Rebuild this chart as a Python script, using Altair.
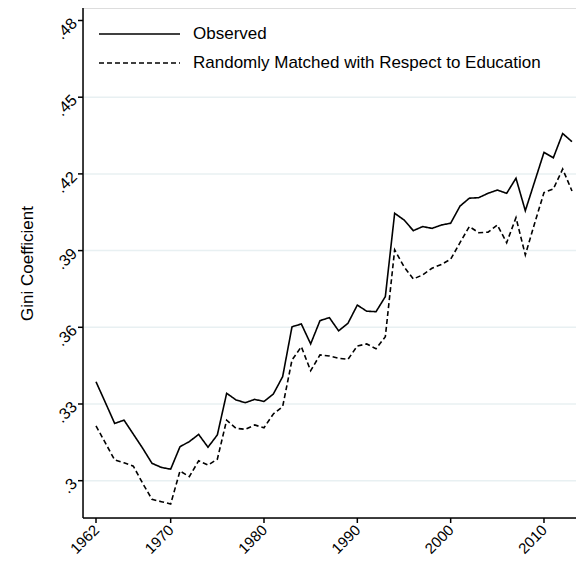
import altair as alt
import pandas as pd

years = list(range(1962, 2014))
observed = [0.3387, 0.3306, 0.3224, 0.3237, 0.3182, 0.3127, 0.3068, 0.3052, 0.3045, 0.3133,
            0.3153, 0.3181, 0.3131, 0.3179, 0.3342, 0.3316, 0.3305, 0.3318, 0.3310, 0.3339,
            0.3407, 0.3602, 0.3613, 0.3535, 0.3626, 0.3638, 0.3586, 0.3616, 0.3687, 0.3663,
            0.3661, 0.3720, 0.4046, 0.4020, 0.3978, 0.3994, 0.3987, 0.4000, 0.4007, 0.4074,
            0.4105, 0.4107, 0.4124, 0.4137, 0.4124, 0.4183, 0.4056, 0.4170, 0.4284, 0.4263,
            0.4358, 0.4326]
matched = [0.3214, 0.3148, 0.3081, 0.3070, 0.3057, 0.2990, 0.2927, 0.2918, 0.2909, 0.3038,
           0.3016, 0.3078, 0.3061, 0.3084, 0.3237, 0.3205, 0.3201, 0.3218, 0.3207, 0.3261,
           0.3290, 0.3472, 0.3524, 0.3430, 0.3492, 0.3488, 0.3479, 0.3475, 0.3527, 0.3535,
           0.3516, 0.3563, 0.3903, 0.3837, 0.3789, 0.3805, 0.3831, 0.3846, 0.3866, 0.3931,
           0.3994, 0.3970, 0.3972, 0.4000, 0.3931, 0.4029, 0.3883, 0.4007, 0.4127, 0.4141,
           0.4219, 0.4133]
series_names = ["Observed", "Randomly Matched with Respect to Education"]
x_ticks = [1962, 1970, 1980, 1990, 2000, 2010]
y_ticks = [0.30, 0.33, 0.36, 0.39, 0.42, 0.45, 0.48]
y_tick_labels = [".3", ".33", ".36", ".39", ".42", ".45", ".48"]
grid_vals = [0.30, 0.33, 0.36, 0.39, 0.42, 0.45]

df = pd.DataFrame({
    "year": years * 2,
    "gini": observed + matched,
    "series": [series_names[0]] * len(years) + [series_names[1]] * len(years),
})
grid_df = pd.DataFrame({"gini": grid_vals})
ytick_df = pd.DataFrame({"gini": y_ticks})
xtick_df = pd.DataFrame({"year": x_ticks})
one_df = pd.DataFrame({"k": [0]})
leg_obs_df = pd.DataFrame({"label": [series_names[0]]})
leg_mat_df = pd.DataFrame({"label": [series_names[1]]})

W, H = 493, 510
FONT = "Liberation Sans"
xscale = alt.Scale(domain=[1960.607, 2013.43], nice=False, zero=False)
yscale = alt.Scale(domain=[0.28541, 0.48489], nice=False, zero=False)

label_map = "{" + ", ".join(f"'{v:.2f}': '{t}'" for v, t in zip(y_ticks, y_tick_labels)) + "}"

yaxis = alt.Axis(values=y_ticks, title="Gini Coefficient", grid=False,
                 domain=False, ticks=False,
                 labelExpr=f"{label_map}[format(datum.value, '.2f')]",
                 labelAngle=315, labelAlign="right", labelBaseline="middle",
                 labelFontSize=16, labelColor="black", labelPadding=9,
                 titleFontSize=17, titleFontWeight="normal", titleColor="black",
                 titlePadding=16, labelFont=FONT, titleFont=FONT)
xaxis = alt.Axis(values=x_ticks, format="d", title=None, grid=False,
                 domain=False, ticks=False,
                 labelAngle=315, labelAlign="right", labelBaseline="middle",
                 labelFontSize=15, labelColor="black", labelPadding=9,
                 labelFont=FONT)

grid = alt.Chart(grid_df).mark_rule(color="#e8f0f2", strokeWidth=1.5).encode(
    y=alt.Y("gini:Q", scale=yscale, axis=yaxis),
)

lines = alt.Chart(df).mark_line(color="black", strokeWidth=1.6).encode(
    x=alt.X("year:Q", scale=xscale, axis=xaxis),
    y=alt.Y("gini:Q", scale=yscale, axis=yaxis),
    strokeDash=alt.StrokeDash("series:N",
                              scale=alt.Scale(domain=series_names, range=[[1, 0], [5, 3]]),
                              legend=None),
    detail="series:N",
)

# axis lines and tick marks drawn as ordinary layers
y_axis_line = alt.Chart(one_df).mark_rule(color="black", strokeWidth=1.5).encode(
    x=alt.value(0), y=alt.value(0), y2=alt.value(H))
x_axis_line = alt.Chart(one_df).mark_rule(color="black", strokeWidth=1.5).encode(
    y=alt.value(H), x=alt.value(0), x2=alt.value(W))
y_tick_marks = alt.Chart(ytick_df).mark_rule(color="black", strokeWidth=1.5).encode(
    y=alt.Y("gini:Q", scale=yscale, axis=yaxis), x=alt.value(-5), x2=alt.value(0))
x_tick_marks = alt.Chart(xtick_df).mark_rule(color="black", strokeWidth=1.5).encode(
    x=alt.X("year:Q", scale=xscale, axis=xaxis), y=alt.value(H), y2=alt.value(H + 5))

leg_obs_line = alt.Chart(leg_obs_df).mark_rule(color="black", strokeWidth=1.6).encode(
    x=alt.value(16), x2=alt.value(97), y=alt.value(26))
leg_mat_line = alt.Chart(leg_mat_df).mark_rule(color="black", strokeWidth=1.5, strokeDash=[5, 3]).encode(
    x=alt.value(16), x2=alt.value(97), y=alt.value(55))
leg_obs_text = alt.Chart(leg_obs_df).mark_text(align="left", baseline="middle", fontSize=17,
                                               font=FONT, color="black").encode(
    text="label:N", x=alt.value(110), y=alt.value(26))
leg_mat_text = alt.Chart(leg_mat_df).mark_text(align="left", baseline="middle", fontSize=17,
                                               font=FONT, color="black").encode(
    text="label:N", x=alt.value(110), y=alt.value(55))

chart = alt.layer(grid, lines, y_axis_line, x_axis_line, y_tick_marks, x_tick_marks,
                  leg_obs_line, leg_mat_line, leg_obs_text, leg_mat_text).properties(
    width=W, height=H,
    autosize=alt.AutoSizeParams(type="none"),
    padding={"left": 75, "top": 0, "right": 0, "bottom": 50},
).configure_view(stroke=None).configure(font=FONT)

chart.save("out.html", embed_options={"renderer": "svg", "actions": False})
